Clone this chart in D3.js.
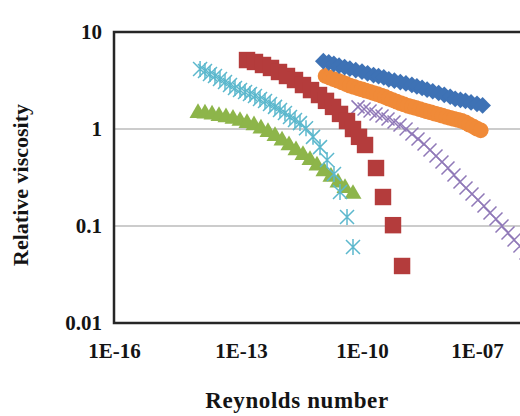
<!DOCTYPE html>
<html>
<head>
<meta charset="utf-8">
<script src="https://cdn.jsdelivr.net/npm/d3@7"></script>
<style>
  html, body { margin: 0; padding: 0; background: #fff; }
  svg { display: block; }
</style>
</head>
<body>
<svg id="chart" width="520" height="416"></svg>
<script>
// ---------- data ----------
const xTickValues = [1e-16, 1e-13, 1e-10, 1e-7];
const xTickLabels = ["1E-16", "1E-13", "1E-10", "1E-07"];
const yTickValues = [0.01, 0.1, 1, 10];
const yTickLabels = ["0.01", "0.1", "1", "10"];
const xTitle = "Reynolds number";
const yTitle = "Relative viscosity";

// blue diamonds
const blueX = [1.1e-11, 1.5e-11, 2e-11, 2.7e-11, 3.7e-11, 5e-11, 7e-11, 1e-10, 1.4e-10, 2e-10,
  2.7e-10, 3.7e-10, 5e-10, 7e-10, 1e-9, 1.4e-9, 2e-9, 2.7e-9, 3.7e-9, 5e-9,
  7e-9, 1e-8, 1.4e-8, 2e-8, 2.7e-8, 3.7e-8, 5e-8, 7e-8, 1e-7, 1.4e-7];
const blueY = [5.0, 4.85, 4.7, 4.5, 4.35, 4.2, 4.05, 3.9, 3.75, 3.6,
  3.5, 3.4, 3.25, 3.15, 3.05, 2.95, 2.85, 2.75, 2.65, 2.55,
  2.45, 2.35, 2.25, 2.15, 2.05, 2.0, 1.95, 1.88, 1.82, 1.75];

// orange circles
const orangeX = [1.25e-11, 1.6e-11, 2e-11, 2.5e-11, 3.2e-11, 4e-11, 5e-11, 6.3e-11, 8e-11, 1e-10,
  1.25e-10, 1.6e-10, 2e-10, 2.5e-10, 3.2e-10, 4e-10, 5e-10, 6.3e-10, 8e-10, 1e-9,
  1.25e-9, 1.6e-9, 2e-9, 2.5e-9, 3.2e-9, 4e-9, 5e-9, 6.3e-9, 8e-9, 1e-8,
  1.25e-8, 1.6e-8, 2e-8, 2.5e-8, 3.2e-8, 4e-8, 5e-8, 6.3e-8, 8e-8, 1e-7, 1.25e-7];
const orangeY = [3.52, 3.38, 3.26, 3.15, 3.02, 2.91, 2.80, 2.72, 2.63, 2.56,
  2.49, 2.42, 2.35, 2.29, 2.21, 2.14, 2.06, 1.99, 1.91, 1.85,
  1.79, 1.73, 1.69, 1.65, 1.60, 1.56, 1.52, 1.48, 1.44, 1.41,
  1.37, 1.33, 1.30, 1.27, 1.24, 1.21, 1.17, 1.11, 1.06, 1.01, 0.97];

// red squares
const redX = [1.41e-13, 2.22e-13, 3.51e-13, 5.54e-13, 8.75e-13, 1.38e-12, 2.18e-12, 3.44e-12, 5.44e-12, 8.59e-12,
  1.28e-11, 1.91e-11, 2.85e-11, 4.25e-11, 5.98e-11, 8.43e-11, 1.2e-10, 2.32e-10, 3.53e-10, 6.44e-10, 1.11e-9];
const redY = [5.14, 4.91, 4.57, 4.26, 3.87, 3.52, 3.20, 2.84, 2.52, 2.24,
  1.95, 1.69, 1.43, 1.21, 1.00, 0.83, 0.684, 0.396, 0.199, 0.102, 0.0387];

// cyan asterisks
const cyanX = [1.08e-14, 1.41e-14, 1.85e-14, 2.43e-14, 3.19e-14, 4.19e-14, 5.5e-14, 7.21e-14, 9.48e-14, 1.26e-13,
  1.67e-13, 2.22e-13, 2.96e-13, 3.94e-13, 5.24e-13, 6.97e-13, 9.27e-13, 1.23e-12, 1.64e-12, 2.18e-12,
  2.9e-12, 4.09e-12, 6.1e-12, 9.1e-12, 1.36e-11, 2.02e-11, 2.85e-11, 4.25e-11, 5.98e-11];
const cyanY = [4.16, 3.96, 3.69, 3.52, 3.27, 3.05, 2.84, 2.65, 2.52, 2.41,
  2.30, 2.19, 2.04, 1.94, 1.81, 1.69, 1.57, 1.46, 1.33, 1.24,
  1.15, 1.02, 0.83, 0.65, 0.48, 0.344, 0.224, 0.124, 0.0608];

// green triangles
const greenX = [9.64e-15, 1.41e-14, 2.07e-14, 3.02e-14, 4.42e-14, 6.47e-14, 9.48e-14, 1.41e-13, 2.1e-13, 3.13e-13,
  4.67e-13, 6.97e-13, 1.04e-12, 1.55e-12, 2.31e-12, 3.44e-12, 5.14e-12, 7.66e-12, 1.14e-11, 1.7e-11,
  2.54e-11, 3.79e-11, 5.98e-11];
const greenY = [1.46, 1.44, 1.41, 1.36, 1.32, 1.27, 1.21, 1.15, 1.09, 1.01,
  0.93, 0.847, 0.761, 0.679, 0.604, 0.539, 0.478, 0.419, 0.367, 0.321,
  0.281, 0.246, 0.214];

// purple crosses
const purpleX = [7.96e-11, 1.13e-10, 1.62e-10, 2.32e-10, 3.33e-10, 4.77e-10, 6.84e-10, 9.8e-10, 1.41e-9, 2.01e-9,
  2.89e-9, 4.15e-9, 5.94e-9, 8.53e-9, 1.22e-8, 1.75e-8, 2.51e-8, 3.6e-8, 5.17e-8, 7.41e-8,
  1.06e-7, 1.52e-7, 2.18e-7, 3.13e-7, 4.49e-7, 6.44e-7, 9.24e-7, 1.32e-6, 1.9e-6];
const purpleY = [1.69, 1.61, 1.53, 1.43, 1.36, 1.27, 1.18, 1.10, 1.00, 0.888,
  0.789, 0.700, 0.608, 0.527, 0.457, 0.396, 0.336, 0.284, 0.246, 0.214,
  0.185, 0.161, 0.136, 0.118, 0.100, 0.0847, 0.0717, 0.0622, 0.0527];

// ---------- layout ----------
const plotLeft = 114, plotTop = 32, plotBottom = 323, plotRight = 560;
const font = "'Liberation Serif', 'Times New Roman', serif";

const svg = d3.select("#chart");

const x = d3.scaleLog()
  .domain(xTickValues)
  .range([114, 241, 362, 477]);
const y = d3.scaleLog()
  .domain([0.01, 10])
  .range([plotBottom, plotTop]);

// gridlines
svg.append("g")
  .selectAll("line")
  .data([0.1, 1])
  .join("line")
  .attr("x1", plotLeft).attr("x2", plotRight)
  .attr("y1", d => y(d)).attr("y2", d => y(d))
  .attr("stroke", "#9a9a9a").attr("stroke-width", 1.2);

// series
const pair = (xs, ys) => xs.map((v, i) => [v, ys[i]]);

const g = svg.append("g");

function drawSymbols(data, pathFn, fill, stroke, sw, rotate) {
  g.append("g").selectAll("path")
    .data(data)
    .join("path")
    .attr("transform", d => `translate(${x(d[0])},${y(d[1])})` + (rotate ? ` rotate(${rotate})` : ""))
    .attr("d", pathFn)
    .attr("fill", fill)
    .attr("stroke", stroke)
    .attr("stroke-width", sw);
}

const crossPath = h => `M${-h},${-h}L${h},${h}M${-h},${h}L${h},${-h}`;
const starPath = h => `M${-h},${-h}L${h},${h}M${-h},${h}L${h},${-h}M0,${-h - 1}L0,${h + 1}`;

drawSymbols(pair(purpleX, purpleY), () => crossPath(6.5), "none", "#9079b8", 1.5);
drawSymbols(pair(greenX, greenY), d3.symbol(d3.symbolTriangle, 125), "#8db54a", "none", 0);
drawSymbols(pair(redX, redY), d3.symbol(d3.symbolSquare, 270), "#b43c3c", "none", 0);
drawSymbols(pair(cyanX, cyanY), () => starPath(7), "none", "#5cb8cd", 1.5);
drawSymbols(pair(orangeX, orangeY), d3.symbol(d3.symbolCircle, 195), "#f08a38", "none", 0);
drawSymbols(pair(blueX, blueY), d3.symbol(d3.symbolSquare, 140), "#3e72b5", "none", 0, 45);

// frame (left, top, bottom; right side lies outside the picture)
svg.append("path")
  .attr("d", `M${plotRight},${plotTop}H${plotLeft}V${plotBottom}H${plotRight}`)
  .attr("fill", "none")
  .attr("stroke", "#262626")
  .attr("stroke-width", 2.5);

// axes
const xAxis = d3.axisBottom(x)
  .tickValues(xTickValues)
  .tickFormat((d, i) => xTickLabels[i])
  .tickSize(0)
  .tickPadding(20);
const xg = svg.append("g").attr("transform", `translate(0,${plotBottom})`).call(xAxis);
xg.select(".domain").remove();
xg.selectAll("text")
  .attr("font-family", font).attr("font-weight", "bold").attr("font-size", 21).attr("fill", "#141414");

const yAxis = d3.axisLeft(y)
  .tickValues(yTickValues)
  .tickFormat((d, i) => yTickLabels[i])
  .tickSize(0)
  .tickPadding(12);
const yg = svg.append("g").attr("transform", `translate(${plotLeft},0)`).call(yAxis);
yg.select(".domain").remove();
yg.selectAll("text")
  .attr("font-family", font).attr("font-weight", "bold").attr("font-size", 21).attr("fill", "#141414");

// titles
svg.append("text")
  .attr("x", 297).attr("y", 408)
  .attr("text-anchor", "middle")
  .attr("font-family", font).attr("font-weight", "bold").attr("font-size", 23)
  .attr("letter-spacing", 0.6)
  .attr("fill", "#141414")
  .text(xTitle);

svg.append("text")
  .attr("transform", "translate(28,185) rotate(-90)")
  .attr("text-anchor", "middle")
  .attr("font-family", font).attr("font-weight", "bold").attr("font-size", 22)
  .attr("fill", "#141414")
  .text(yTitle);
</script>
</body>
</html>
